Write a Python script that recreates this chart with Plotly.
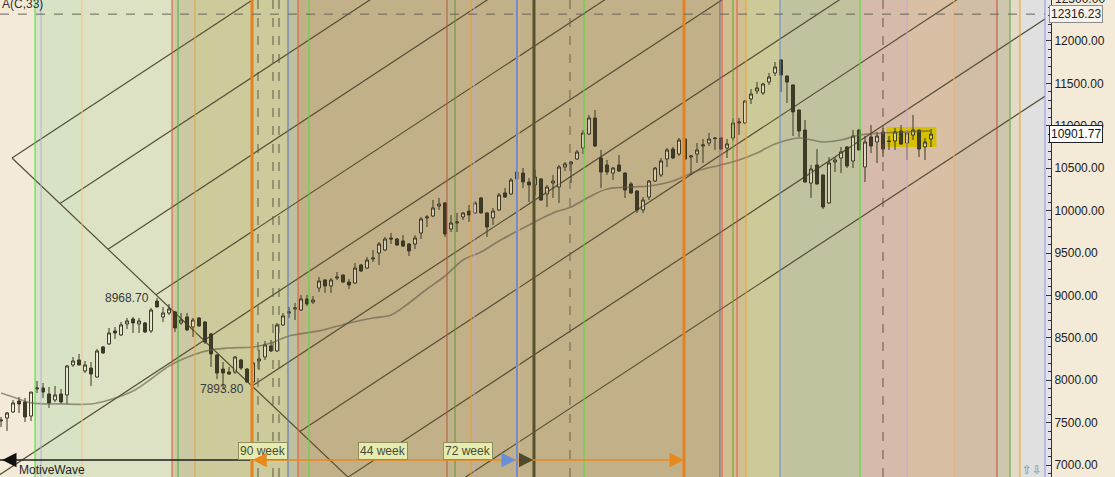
import plotly.graph_objects as go

# ---------------- data (weekly candles) ----------------
weeks = list(range(156))
opens = [7519, 7555, 7626, 7755, 7743, 7578, 7897, 7908, 7838, 7767, 7838, 7826, 8180, 8239, 8109, 8144,
         8038, 8392, 8428, 8581, 8534, 8663, 8722, 8663, 8675, 8581, 8934, 8746, 8793, 8805, 8675, 8746,
         8628, 8734, 8687, 8546, 8298, 8132, 8097, 8097, 8239, 8132, 7979, 8227, 8274, 8404, 8345, 8652,
         8793, 8840, 8828, 8958, 8922, 9087, 9182, 9111, 9205, 9241, 9158, 9146, 9359, 9323, 9429, 9500,
         9535, 9677, 9665, 9642, 9606, 9606, 9736, 9913, 9936, 10054, 10090, 9783, 9854, 9925, 9995, 9972,
         10149, 9972, 9913, 10007, 10208, 10196, 10373, 10443, 10337, 10302, 10373, 10196, 10325, 10278, 10514, 10550,
         10608, 10738, 10903, 11092, 10620, 10538, 10443, 10538, 10443, 10314, 10231, 10007, 10160, 10349, 10420, 10608,
         10726, 10667, 10844, 10632, 10667, 10762, 10797, 10856, 10856, 10738, 10856, 11033, 11033, 11316, 11410, 11387,
         11516, 11622, 11776, 11587, 11481, 11186, 10950, 10325, 10538, 10420, 10090, 10573, 10620, 10750, 10585, 10951,
         10514, 10868, 10809, 10927, 10821, 10821, 10938, 10797, 10891, 10950, 10750, 10844]
highs = [7567, 7626, 7767, 7802, 7791, 7861, 7991, 7967, 7920, 7932, 7897, 8180, 8274, 8310, 8227, 8215,
         8369, 8404, 8616, 8628, 8687, 8734, 8746, 8734, 8687, 8852, 8968.7, 8864, 8899, 8817, 8793, 8793,
         8734, 8745, 8695, 8557, 8305, 8215, 8156, 8286, 8251, 8144, 8215, 8357, 8463, 8475, 8675, 8793,
         8864, 8911, 9005, 9005, 8993, 9217, 9194, 9205, 9276, 9245, 9194, 9382, 9370, 9453, 9535, 9630,
         9689, 9736, 9677, 9712, 9618, 9712, 9925, 9948, 10125, 10149, 10101, 9948, 9972, 9984, 10066, 10113,
         10160, 9980, 10031, 10208, 10267, 10384, 10479, 10502, 10384, 10479, 10384, 10302, 10420, 10538, 10573, 10585,
         10715, 10951, 11127, 11186, 10715, 10597, 10514, 10656, 10450, 10337, 10240, 10160, 10361, 10514, 10620, 10738,
         10750, 10856, 10856, 10656, 10797, 10844, 10915, 10868, 10868, 10844, 11092, 11092, 11304, 11434, 11517, 11505,
         11622, 11752, 11787, 11590, 11485, 11190, 11068, 10538, 10726, 10425, 10632, 10632, 10750, 10762, 10951, 10962,
         10880, 11009, 10927, 10974, 10880, 10974, 11009, 10951, 11127, 10955, 10856, 10962]
lows = [7449, 7402, 7614, 7614, 7508, 7519, 7850, 7791, 7673, 7743, 7732, 7720, 8156, 8175, 8085, 7932,
        8030, 8310, 8416, 8487, 8522, 8604, 8557, 8557, 8557, 8557, 8860, 8687, 8769, 8569, 8652, 8585,
        8510, 8630, 8428, 8156, 8014, 7893.8, 8062, 8073, 8121, 7975, 7967, 8121, 8239, 8333, 8333, 8640,
        8734, 8710, 8817, 8876, 8899, 9040, 9029, 9029, 9182, 9146, 9076, 9140, 9276, 9311, 9394, 9359,
        9523, 9606, 9582, 9570, 9464, 9547, 9665, 9807, 9925, 10007, 9689, 9748, 9748, 9889, 9866, 9960,
        9965, 9689, 9830, 9995, 10149, 10184, 10349, 10266, 10101, 10184, 10113, 10042, 10149, 10090, 10467, 10325,
        10597, 10667, 10892, 10750, 10266, 10420, 10361, 10455, 10149, 10196, 9972, 9972, 10125, 10337, 10396, 10514,
        10608, 10644, 10597, 10420, 10561, 10561, 10762, 10715, 10715, 10620, 10821, 10892, 11021, 11257, 11375, 11363,
        11481, 11587, 11398, 11269, 10879, 10867, 10330, 10149, 10305, 10019, 10078, 10455, 10443, 10502, 10502, 10710,
        10337, 10679, 10561, 10632, 10715, 10715, 10774, 10597, 10832, 10632, 10597, 10750]
closes = [7531, 7614, 7732, 7720, 7567, 7861, 7908, 7861, 7732, 7826, 7743, 8168, 8227, 8180, 8180, 8073,
          8345, 8322, 8557, 8557, 8652, 8699, 8675, 8699, 8569, 8828, 8864, 8793, 8840, 8616, 8710, 8592,
          8710, 8640, 8451, 8310, 8085, 8085, 8073, 8274, 8144, 7979, 8203, 8251, 8416, 8345, 8652, 8758,
          8805, 8852, 8958, 8899, 8946, 9170, 9111, 9182, 9217, 9158, 9123, 9323, 9288, 9417, 9441, 9606,
          9665, 9665, 9594, 9582, 9524, 9677, 9901, 9925, 10031, 10078, 9724, 9854, 9866, 9972, 9948, 10090,
          9972, 9807, 9995, 10184, 10160, 10361, 10455, 10337, 10302, 10396, 10125, 10278, 10349, 10514, 10550, 10573,
          10691, 10915, 11092, 10762, 10455, 10455, 10502, 10467, 10243, 10208, 10007, 10125, 10349, 10502, 10585, 10715,
          10620, 10832, 10608, 10644, 10715, 10774, 10844, 10850, 10726, 10786, 11033, 11045, 11292, 11375, 11446, 11493,
          11575, 11693, 11599, 11516, 11163, 10938, 10337, 10490, 10314, 10042, 10561, 10597, 10691, 10526, 10879, 10715,
          10809, 10762, 10879, 10726, 10815, 10927, 10786, 10915, 10950, 10726, 10809, 10901.77]

# moving average A(C,33) sampled along the chart
ma_weeks = [0, 3, 5, 10, 15, 18, 22, 25, 28, 32, 35, 38, 42, 45, 48, 53, 58, 62, 65, 68, 71, 74, 77, 80, 83,
            88, 92, 95, 98, 101, 105, 108, 112, 116, 120, 123, 126, 129, 133, 137, 140, 143, 147, 151, 155]
ma_values = [7850, 7779, 7732, 7720, 7720, 7767, 7873, 8014, 8168, 8298, 8357, 8380, 8392, 8439, 8522,
             8581, 8675, 8734, 8769, 8911, 9076, 9229, 9418, 9512, 9642, 9830, 9972, 10042, 10160, 10255,
             10278, 10290, 10349, 10467, 10538, 10597, 10679, 10785, 10856, 10809, 10832, 10891, 10915, 10927, 10939]

# price labels
high_label_week, high_label_price = 21, 8968.70
low_label_week, low_label_price = 36.8, 7893.80
top_level = 12316.23
last_price = 10901.77
top_tick = 12500

# coloured cycle zones (week ranges)
zone_starts = [5.67, 13.5, 28.5, 32.33, 47.83, 49.5, 119.83, 124.17, 129.83, 143.17, 151.0, 158.83, 166.0, 168.17, 169.83]
zone_ends = [13.5, 28.5, 32.33, 47.83, 49.5, 119.83, 124.17, 129.83, 143.17, 151.0, 158.83, 166.0, 168.17, 169.83, 174.2]
zone_colors = ['#d8e3c6', '#dce2c3', '#cbc8a4', '#cdca9b', '#bfc09e', '#c2b089', '#d1bf92', '#cdca9a',
               '#c1c29e', '#d7bbaa', '#d9bfa4', '#d2bea6', '#cdc8ad', '#e4dbc6', '#e0e0e0']

# cycle marker lines (week, colour, width, dash)
marker_weeks = [5.67, 6.67, 13.5, 28.5, 29.5, 32.33, 41.83, 42.83, 45.33, 46.33, 47.83, 49.5, 51.33,
                74.33, 75.67, 78.33, 78.83, 86.0, 86.33, 88.83, 94.83, 97.17, 113.83, 119.83, 120.17,
                122.0, 122.67, 124.17, 129.83, 143.17, 147.0, 151.0, 158.83, 166.0, 168.17, 169.83]
marker_colors = ['#44e030', '#b4aee0', '#f7c48e', '#e2553a', '#46b536', '#e3a443', '#e5821f', '#5a5a4a',
                 '#5a5a4a', '#5a5a4a', '#5673b8', '#e2553a', '#4ee03a', '#b45a3c', '#5a9a34', '#e3a433',
                 '#c4a6d2', '#6490d8', '#f2b07e', '#56522e', '#6a6050', '#4ee03a', '#e5821f', '#6a6a88',
                 '#e2553a', '#62a234', '#e2553a', '#e3a433', '#6490d8', '#50e040', '#6e5040', '#c8a2d8',
                 '#f2b070', '#c24a32', '#62a040', '#f2a020']
marker_widths = [1, 1, 1, 1, 1, 1, 3, 1, 1, 1, 1, 1, 1, 1, 1, 1, 1, 2, 1, 3, 1, 1, 3, 1, 1, 1, 1, 1,
                 1, 1, 1, 1, 1, 1, 1, 1]
marker_dashes = ['solid'] * 7 + ['dash', 'dash', 'dash'] + ['solid'] * 10 + ['dash'] + ['solid'] * 9 + \
                ['dash'] + ['solid'] * 5

# fan of parallel lines (pivot, slopes in price per week, spacing in weeks)
fan_pivot_week = 1.83
fan_pivot_price = 10620
fan_down_slope = -67.2
fan_up_slope = 46.5
fan_step = 8
fan_count = 9
fan_extended_left = 4

# cycle labels on the time bar
cycle_labels = ['90 week', '44 week', '72 week']
cycle_label_weeks = [43.67, 63.67, 77.83]

# ---------------- figure ----------------
X_MIN, X_MAX = -0.17, 174.0
Y_MIN, Y_MAX = 6859, 12483
FONT = 'Liberation Sans'
DOM_R = 1045 / 1115
AXIS_POS = 1051 / 1115
BAR_Y = 1 - 460 / 477

fig = go.Figure()

for x0, x1, c in zip(zone_starts, zone_ends, zone_colors):
    fig.add_shape(type='rect', xref='x', yref='paper', x0=x0, x1=x1, y0=0, y1=1,
                  fillcolor=c, line_width=0, layer='below')

# fan lines
line_style = dict(color='#555034', width=1.2)
fig.add_shape(type='line', xref='x', yref='y', x0=fan_pivot_week, y0=fan_pivot_price,
              x1=fan_pivot_week + 100, y1=fan_pivot_price + fan_down_slope * 100,
              line=line_style, layer='below')
for k in range(fan_count):
    sx = fan_pivot_week + k * fan_step
    sy = fan_pivot_price + fan_down_slope * k * fan_step
    if k == fan_extended_left:
        bx = X_MIN - 2
        by = sy + fan_up_slope * (bx - sx)
        sx, sy = bx, by
    ex = X_MAX + 2
    ey = sy + fan_up_slope * (ex - sx)
    fig.add_shape(type='line', xref='x', yref='y', x0=sx, y0=sy, x1=ex, y1=ey,
                  line=line_style, layer='below')

# highlight of the latest bars
fig.add_shape(type='rect', xref='x', yref='y', x0=147.6, x1=155.9, y0=10750, y1=10985,
              fillcolor='#d6c000', line_width=0, layer='below')

fig.add_trace(go.Candlestick(
    x=weeks, open=opens, high=highs, low=lows, close=closes,
    increasing=dict(line=dict(color='#3b3824', width=1), fillcolor='rgba(255,255,245,0.42)'),
    decreasing=dict(line=dict(color='#3b3824', width=1), fillcolor='#3e3b28'),
    whiskerwidth=0, hoverinfo='skip', showlegend=False))

fig.add_trace(go.Scatter(x=ma_weeks, y=ma_values, mode='lines',
                         line=dict(color='rgba(95,90,72,0.6)', width=1.7, shape='spline'),
                         hoverinfo='skip', showlegend=False))

# cycle marker lines
for w, c, lw, d in zip(marker_weeks, marker_colors, marker_widths, marker_dashes):
    fig.add_shape(type='line', xref='x', yref='paper', x0=w, x1=w, y0=0, y1=1,
                  line=dict(color=c, width=lw, dash=d), layer='above')

# dashed level line
fig.add_shape(type='line', xref='paper', yref='y', x0=0, x1=DOM_R, y0=top_level, y1=top_level,
              line=dict(color='#6a6458', width=1, dash='dash'), layer='above')

# right edge: blue line and strip before axis
fig.add_shape(type='rect', xref='paper', yref='paper', x0=DOM_R, x1=AXIS_POS, y0=0, y1=1,
              fillcolor='#e4e2ea', line_width=0, layer='below')
fig.add_shape(type='line', xref='paper', yref='paper', x0=DOM_R, x1=DOM_R, y0=0, y1=1,
              line=dict(color='#8a94e2', width=1))

# time bar lines
fig.add_shape(type='line', xref='x', yref='paper', x0=X_MIN, x1=41.5, y0=BAR_Y, y1=BAR_Y,
              line=dict(color='#1e1e1e', width=1.5), layer='above')
fig.add_shape(type='line', xref='x', yref='paper', x0=42.3, x1=113.6, y0=BAR_Y, y1=BAR_Y,
              line=dict(color='#e8891e', width=1.5), layer='above')

ann = []
for t, w in zip(cycle_labels, cycle_label_weeks):
    ann.append(dict(x=w, y=BAR_Y, xref='x', yref='paper', text=t, showarrow=False,
                    bgcolor='#e6ecae', bordercolor='#8d8f5e', borderwidth=1, borderpad=1,
                    font=dict(family=FONT, size=12, color='#4a4a3a')))

def head(x, xref, tail, color):
    return dict(x=x, y=BAR_Y, xref=xref, yref='paper', ax=tail, ay=0, text='', showarrow=True,
                arrowhead=2, arrowsize=1.3, arrowwidth=2.2, arrowcolor=color, standoff=0)

ann.append(head(0.002, 'paper', 12, '#111111'))
ann.append(head(41.9, 'x', 14, '#e8891e'))
ann.append(head(113.8, 'x', -14, '#e8891e'))
ann.append(head(85.8, 'x', -12, '#6a8fd8'))
ann.append(head(88.7, 'x', -12, '#4e4a2c'))

ann.append(dict(x=0, y=1 - 4 / 477, xref='paper', yref='paper', text='A(C,33)', showarrow=False,
                xanchor='left', yanchor='middle', font=dict(family=FONT, size=12, color='#333')))
ann.append(dict(x=high_label_week, y=high_label_price, xref='x', yref='y', text=f'{high_label_price:.2f}',
                showarrow=False, font=dict(family=FONT, size=12, color='#3a3a3a')))
ann.append(dict(x=low_label_week, y=low_label_price, xref='x', yref='y', text=f'{low_label_price:.2f}',
                showarrow=False, font=dict(family=FONT, size=12, color='#3a3a3a')))
ann.append(dict(x=17 / 1115, y=(477 - 470) / 477, xref='paper', yref='paper', text='MotiveWave',
                showarrow=False, xanchor='left', yanchor='middle',
                font=dict(family=FONT, size=12, color='#1e1e1e')))
ann.append(dict(x=1032 / 1115, y=(477 - 470) / 477, xref='paper', yref='paper', text='⇧⇩',
                showarrow=False, xanchor='center', yanchor='middle',
                font=dict(family='DejaVu Sans', size=12, color='#888')))
ann.append(dict(x=AXIS_POS + 2 / 1115, y=1 + (top_tick - Y_MAX) / (Y_MAX - Y_MIN), xref='paper', yref='paper',
                text=f'{top_tick:.2f}', showarrow=False,
                xanchor='left', yanchor='middle', font=dict(family=FONT, size=12, color='#222')))
ann.append(dict(x=AXIS_POS - 2 / 1115, y=top_level, xref='paper', yref='y', text=f'{top_level:.2f}',
                showarrow=False, xanchor='left', yanchor='middle', bgcolor='#f7f4ee',
                bordercolor='#8a8a8a', borderwidth=1, borderpad=1,
                font=dict(family=FONT, size=12, color='#222')))
ann.append(dict(x=AXIS_POS - 2 / 1115, y=last_price, xref='paper', yref='y', text=f'{last_price:.2f}',
                showarrow=False, xanchor='left', yanchor='middle', bgcolor='#ffffff',
                bordercolor='#222', borderwidth=1, borderpad=1,
                font=dict(family=FONT, size=12, color='#111')))

fig.update_layout(
    width=1115, height=477,
    margin=dict(l=0, r=0, t=0, b=0),
    paper_bgcolor='#f3ead8', plot_bgcolor='#f3ead9',
    showlegend=False,
    annotations=ann,
    xaxis=dict(domain=[0, DOM_R], range=[X_MIN, X_MAX], visible=False,
               rangeslider=dict(visible=False), fixedrange=True),
    yaxis=dict(range=[Y_MIN, Y_MAX], side='right', anchor='free', position=AXIS_POS,
               tickmode='linear', tick0=0, dtick=500, tickformat='.2f',
               ticks='inside', ticklen=5, tickcolor='#333', tickwidth=1,
               showline=True, linecolor='#333', linewidth=1,
               showgrid=False, zeroline=False, automargin=False,
               tickfont=dict(family=FONT, size=12, color='#222'),
               minor=dict(tickmode='linear', tick0=0, dtick=100, ticks='inside', ticklen=3,
                          tickcolor='#333', showgrid=False)),
)

fig.write_html("out.html", config={'displayModeBar': False},
               post_script="document.body.style.margin='0';document.body.style.overflow='hidden';")
